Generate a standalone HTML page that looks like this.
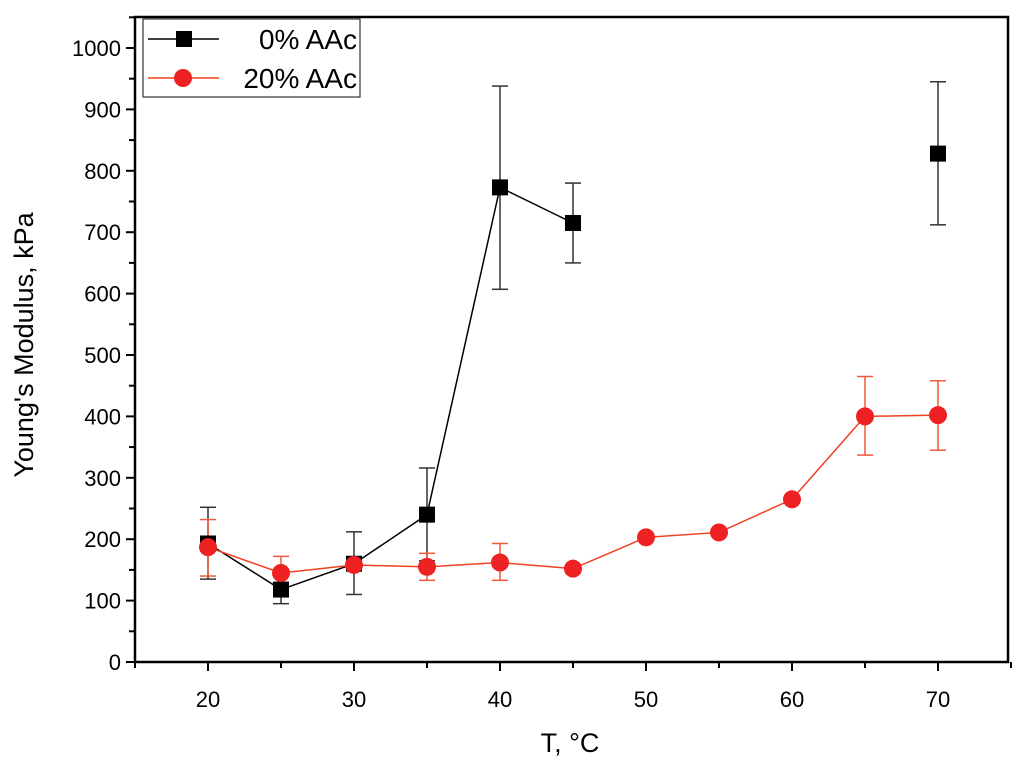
<!DOCTYPE html>
<html><head><meta charset="utf-8"><style>
body{margin:0;background:#fff}
svg{display:block;font-family:"Liberation Sans",Arial,sans-serif}
</style></head><body>
<svg id="chart" width="1024" height="760"></svg>
<script>
const temps0=[20,25,30,35,40,45,70];
const vals0=[193,118,160,240,773,715,828];
const errLo0=[135,95,110,165,607,650,712];
const errHi0=[252,140,212,316,938,780,945];
const temps20=[20,25,30,35,40,45,50,55,60,65,70];
const vals20=[187,145,158,155,162,152,203,211,265,400,402];
const errLo20=[140,120,150,133,133,145,200,208,262,337,345];
const errHi20=[232,172,168,177,193,158,206,214,268,465,458];
const xTicks=[20,30,40,50,60,70];
const yTicks=[0,100,200,300,400,500,600,700,800,900,1000];
const L=135,R=1008,T=17,B=662;
const xs=v=>208+(v-20)*14.6;
const ys=v=>B-v*0.614;
const svg=document.getElementById('chart');
const NS='http://www.w3.org/2000/svg';
function el(tag,attrs,parent){const e=document.createElementNS(NS,tag);for(const k in attrs)e.setAttribute(k,attrs[k]);(parent||svg).appendChild(e);return e;}
let f=el('rect',{x:L,y:T,width:R-L,height:B-T,fill:'none',stroke:'#000','stroke-width':2.5});

yTicks.forEach(v=>{
  el('line',{x1:L-9,x2:L,y1:ys(v),y2:ys(v),stroke:'#000','stroke-width':2});
  el('line',{x1:L-6,x2:L,y1:ys(v+50),y2:ys(v+50),stroke:'#000','stroke-width':2});
  const t=el('text',{x:L-14,y:ys(v)+8,'text-anchor':'end','font-size':22});t.textContent=v;
  
});
xTicks.forEach(v=>{
  el('line',{x1:xs(v),x2:xs(v),y1:B,y2:B+9,stroke:'#000','stroke-width':2});
  el('line',{x1:xs(v+5),x2:xs(v+5),y1:B,y2:B+6,stroke:'#000','stroke-width':2});
  const t=el('text',{x:xs(v),y:B+45,'text-anchor':'middle','font-size':22});t.textContent=v;
  
});
el('line',{x1:xs(15),x2:xs(15),y1:B,y2:B+6,stroke:'#000','stroke-width':2});
let xt=el('text',{x:570,y:752,'text-anchor':'middle','font-size':27});xt.textContent='T, °C';

let yt=el('text',{x:0,y:0,'text-anchor':'middle','font-size':27,transform:'translate(33,345) rotate(-90)'});yt.textContent="Young's Modulus, kPa";

function errs(tx,lo,hi,col,name){tx.forEach((t,i)=>{
  const g=el('g',{stroke:col,'stroke-width':1.5});
  
  el('line',{x1:xs(t),x2:xs(t),y1:ys(lo[i]),y2:ys(hi[i])},g);
  el('line',{x1:xs(t)-8,x2:xs(t)+8,y1:ys(lo[i]),y2:ys(lo[i])},g);
  el('line',{x1:xs(t)-8,x2:xs(t)+8,y1:ys(hi[i]),y2:ys(hi[i])},g);
});}
errs(temps0,errLo0,errHi0,'#333','error-bar-0aac');
errs(temps20,errLo20,errHi20,'#f05a3a','error-bar-20aac');
let p0=el('polyline',{points:temps0.slice(0,6).map((t,i)=>xs(t)+','+ys(vals0[i])).join(' '),fill:'none',stroke:'#000','stroke-width':1.5});

let p2=el('polyline',{points:temps20.map((t,i)=>xs(t)+','+ys(vals20[i])).join(' '),fill:'none',stroke:'#f04020','stroke-width':1.5});

temps0.forEach((t,i)=>{const r=el('rect',{x:xs(t)-8,y:ys(vals0[i])-8,width:16,height:16,fill:'#000'});
  });
temps20.forEach((t,i)=>{const c=el('circle',{cx:xs(t),cy:ys(vals20[i]),r:9,fill:'#ee2222'});
  });
const lg=el('g',{});
el('rect',{x:143,y:19,width:217,height:78,fill:'#fff',stroke:'#333','stroke-width':1.2},lg);
el('line',{x1:148,x2:219,y1:39,y2:39,stroke:'#000','stroke-width':1.5},lg);
el('rect',{x:176,y:31,width:16,height:16,fill:'#000'},lg);
let l1=el('text',{x:357,y:49,'text-anchor':'end','font-size':28},lg);l1.textContent='0% AAc';

el('line',{x1:148,x2:219,y1:78,y2:78,stroke:'#f04020','stroke-width':1.5},lg);
el('circle',{cx:183,cy:78,r:9,fill:'#ee2222'},lg);
let l2=el('text',{x:357,y:88,'text-anchor':'end','font-size':28},lg);l2.textContent='20% AAc';

</script>
</body></html>
